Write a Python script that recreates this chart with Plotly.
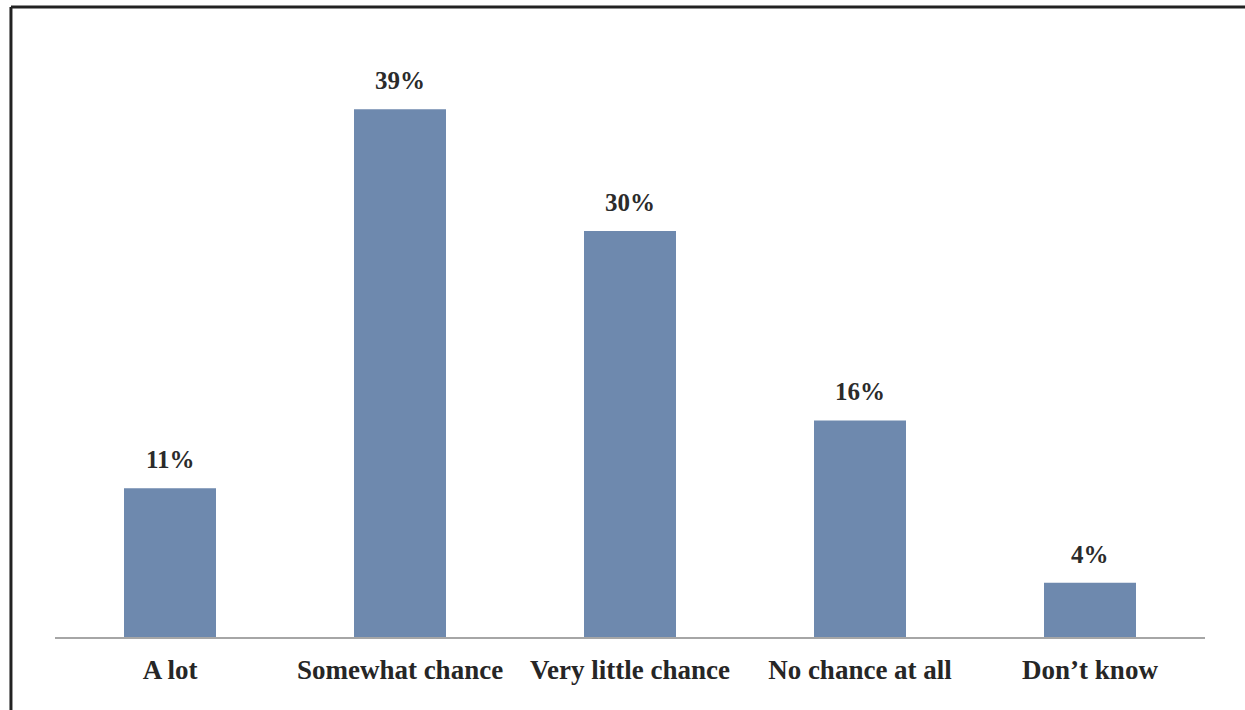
import plotly.graph_objects as go

# data
categories = ['A lot', 'Somewhat chance', 'Very little chance', 'No chance at all', 'Don\u2019t know']
values = [11, 39, 30, 16, 4]
value_labels = [f'{v}%' for v in values]

bar_color = '#6E89AE'
font_family = 'Liberation Serif, Times New Roman, serif'

fig = go.Figure()
fig.add_trace(go.Bar(
    x=categories,
    y=values,
    width=0.4,
    marker=dict(color=bar_color, line=dict(width=0)),
    hoverinfo='x+y'
))

# value labels above bars
for c, v, t in zip(categories, values, value_labels):
    fig.add_annotation(
        x=c, y=v, text=f'<b>{t}</b>',
        showarrow=False,
        yanchor='bottom', yshift=13,
        font=dict(family=font_family, size=25, color='#2b2b2b')
    )

# frame around the chart (left + top edge visible)
fig.add_shape(type='line', xref='paper', yref='paper',
              x0=-0.0383, x1=-0.0383, y0=1.0345, y1=-0.13,
              line=dict(color='#222222', width=3))
fig.add_shape(type='line', xref='paper', yref='paper',
              x0=-0.0383, x1=1.05, y0=1.0345, y1=1.0345,
              line=dict(color='#222222', width=3))

fig.update_layout(
    width=1245, height=710,
    margin=dict(l=55, r=40, t=28, b=73),
    paper_bgcolor='white',
    plot_bgcolor='white',
    showlegend=False,
    bargap=0.6,
    font=dict(family=font_family, size=28, color='#222222'),
    xaxis=dict(
        showgrid=False, zeroline=False,
        showline=True, linecolor='#A6A6A6', linewidth=2,
        ticks='', ticklabelstandoff=8,
        tickfont=dict(family=font_family, size=27, color='#262626', weight='bold')
    ),
    yaxis=dict(
        range=[0, 45], visible=False, showgrid=False, zeroline=False
    )
)

# remove default page margin so the figure sits at the window corner
fig.write_html('out.html', config={'displayModeBar': False},
               post_script="document.body.style.margin='0';")
